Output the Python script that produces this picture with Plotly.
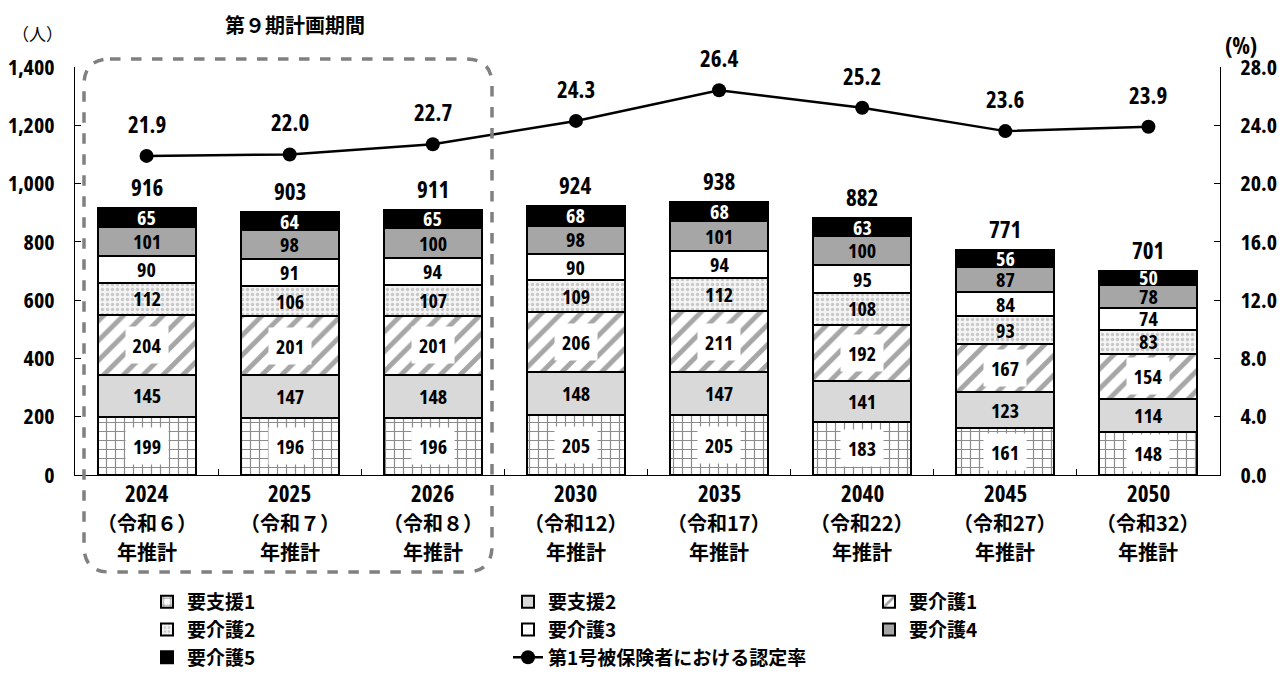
import plotly.graph_objects as go

years = ["2024", "2025", "2026", "2030", "2035", "2040", "2045", "2050"]
reiwa = ["（令和６）", "（令和７）", "（令和８）", "（令和12）", "（令和17）", "（令和22）", "（令和27）", "（令和32）"]
suffix = "年推計"
shien1 = [199, 196, 196, 205, 205, 183, 161, 148]
shien2 = [145, 147, 148, 148, 147, 141, 123, 114]
kaigo1 = [204, 201, 201, 206, 211, 192, 167, 154]
kaigo2 = [112, 106, 107, 109, 112, 108, 93, 83]
kaigo3 = [90, 91, 94, 90, 94, 95, 84, 74]
kaigo4 = [101, 98, 100, 98, 101, 100, 87, 78]
kaigo5 = [65, 64, 65, 68, 68, 63, 56, 50]
totals = [916, 903, 911, 924, 938, 882, 771, 701]
rate = [21.9, 22.0, 22.7, 24.3, 26.4, 25.2, 23.6, 23.9]
left_ticks = [0, 200, 400, 600, 800, 1000, 1200, 1400]
left_ticktext = ["0", "200", "400", "600", "800", "1,000", "1,200", "1,400"]
right_ticks = [0, 4, 8, 12, 16, 20, 24, 28]

CJK = "Noto Sans CJK JP, sans-serif"
NUMFAM = "Open Sans"


def num(s):
    return f'<span style="font-family:{NUMFAM};font-stretch:75%">{s}</span>'


cats = years
series = [
    ("要支援1", shien1, dict(color="white", pattern=dict(shape="+", fgcolor="#8c8c8c", bgcolor="white", size=9, solidity=0.25, fillmode="replace"))),
    ("要支援2", shien2, dict(color="#d9d9d9")),
    ("要介護1", kaigo1, dict(color="white", pattern=dict(shape="/", fgcolor="#a6a6a6", bgcolor="white", size=14, solidity=0.35, fillmode="replace"))),
    ("要介護2", kaigo2, dict(color="white", pattern=dict(shape=".", fgcolor="#c8c8c8", bgcolor="#f4f4f4", size=5, solidity=0.35, fillmode="replace"))),
    ("要介護3", kaigo3, dict(color="white")),
    ("要介護4", kaigo4, dict(color="#a6a6a6")),
    ("要介護5", kaigo5, dict(color="black")),
]

fig = go.Figure()
for name, vals, mk in series:
    m = dict(mk)
    m["line"] = dict(color="black", width=2)
    fig.add_trace(go.Bar(x=cats, y=vals, name=name, marker=m, hoverinfo="skip"))

fig.add_trace(go.Scatter(x=cats, y=rate, name="第1号被保険者における認定率", yaxis="y2",
                         mode="lines+markers", line=dict(color="black", width=2.5),
                         marker=dict(color="black", size=14)))

NF = dict(family=CJK, size=23, color="black", weight="bold")
SF = dict(family=CJK, size=20, color="black", weight="bold")
annotations = []
cum = [0] * len(cats)
for idx, (name, vals, mk) in enumerate(series):
    for i, v in enumerate(vals):
        mid = cum[i] + v / 2
        boxed = idx in (0, 2)
        a = dict(x=i, y=mid, xref="x", yref="y", text=num(v), showarrow=False,
                 font=dict(SF, color="white" if idx == 6 else "black"))
        if boxed:
            a.update(bgcolor="white", width=40, height=34)
        annotations.append(a)
        cum[i] += v
for i, t in enumerate(totals):
    annotations.append(dict(x=i, y=t, xref="x", yref="y", text=num(t), showarrow=False,
                            yshift=21, font=NF))
for i, r in enumerate(rate):
    annotations.append(dict(x=i, y=r, xref="x", yref="y2", text=num(f"{r:.1f}"), showarrow=False,
                            yshift=32, font=NF))

# page offset (body margin of the html page)
OFF = 8
W, H = 1285 - OFF, 677 - OFF
L, R, T, B = 75 - OFF, 65, 67 - OFF, 202
pw, ph = W - L - R, H - T - B


def px(x):
    return (x - OFF - L) / pw


def py(y):
    return (H - B - (y - OFF)) / ph


for i in range(len(cats)):
    annotations.append(dict(x=i, y=py(493), xref="x", yref="paper", text=num(years[i]), showarrow=False,
                            font=NF, yanchor="middle"))
    annotations.append(dict(x=i, y=py(522), xref="x", yref="paper", text=reiwa[i], showarrow=False,
                            font=dict(family=CJK, size=20, color="black", weight="bold"), yanchor="middle"))
    annotations.append(dict(x=i, y=py(551), xref="x", yref="paper", text=suffix, showarrow=False,
                            font=dict(family=CJK, size=20, color="black", weight="bold"), yanchor="middle"))

annotations.append(dict(x=px(37), y=py(33), xref="paper", yref="paper", text="（人）", showarrow=False,
                        font=dict(family=CJK, size=17, color="black"), xanchor="center", yanchor="middle"))
annotations.append(dict(x=px(1241), y=py(45), xref="paper", yref="paper", text=num("(%)"), showarrow=False,
                        font=NF, xanchor="center", yanchor="middle"))
annotations.append(dict(x=px(295), y=py(25), xref="paper", yref="paper", text="第９期計画期間", showarrow=False,
                        font=dict(family=CJK, size=20, color="black", weight="bold"), xanchor="center", yanchor="middle"))

x0, x1, yt, yb, r = px(84), px(492), py(59), py(572), 26
rx, ry = r / pw, r / ph
path = (f"M{x0+rx},{yt} L{x1-rx},{yt} Q{x1},{yt} {x1},{yt-ry} L{x1},{yb+ry} Q{x1},{yb} {x1-rx},{yb} "
        f"L{x0+rx},{yb} Q{x0},{yb} {x0},{yb+ry} L{x0},{yt-ry} Q{x0},{yt} {x0+rx},{yt} Z")

TF = dict(family=CJK, size=22, color="black", weight="bold")

fig.update_layout(
    width=W, height=H,
    margin=dict(l=L, r=R, t=T, b=B, autoexpand=False),
    paper_bgcolor="white", plot_bgcolor="white",
    barmode="stack", bargap=0.315,
    showlegend=True,
    legend=dict(orientation="h", x=px(147), y=py(583), xanchor="left", yanchor="top",
                entrywidth=316, entrywidthmode="pixels",
                font=dict(family=CJK, size=19, color="black", weight="bold"), traceorder="normal"),
    xaxis=dict(type="category", categoryorder="array", categoryarray=cats, range=[-0.5, len(cats) - 0.5],
               showticklabels=False, showline=True, linecolor="black", linewidth=1, automargin=False,
               ticks="inside", tickson="boundaries", ticklen=6, tickcolor="black", showgrid=False),
    yaxis=dict(range=[0, 1400], tickvals=left_ticks, ticktext=[num(t) for t in left_ticktext], showline=True,
               linecolor="black", automargin=False,
               linewidth=1, ticks="inside", ticklen=6, tickcolor="black", showgrid=False, zeroline=False,
               ticklabelstandoff=15, tickfont=TF),
    yaxis2=dict(range=[0, 28], tickvals=right_ticks, ticktext=[num(f"{t:.1f}") for t in right_ticks],
                overlaying="y", side="right", automargin=False,
                showline=True, linecolor="black", linewidth=1, ticks="inside", ticklen=6, tickcolor="black",
                showgrid=False, zeroline=False, ticklabelstandoff=15, tickfont=TF),
    annotations=annotations,
    shapes=[dict(type="path", path=path, xref="paper", yref="paper",
                 line=dict(color="#808080", width=3.5, dash="dash"))],
)

fig.write_html("out.html")
